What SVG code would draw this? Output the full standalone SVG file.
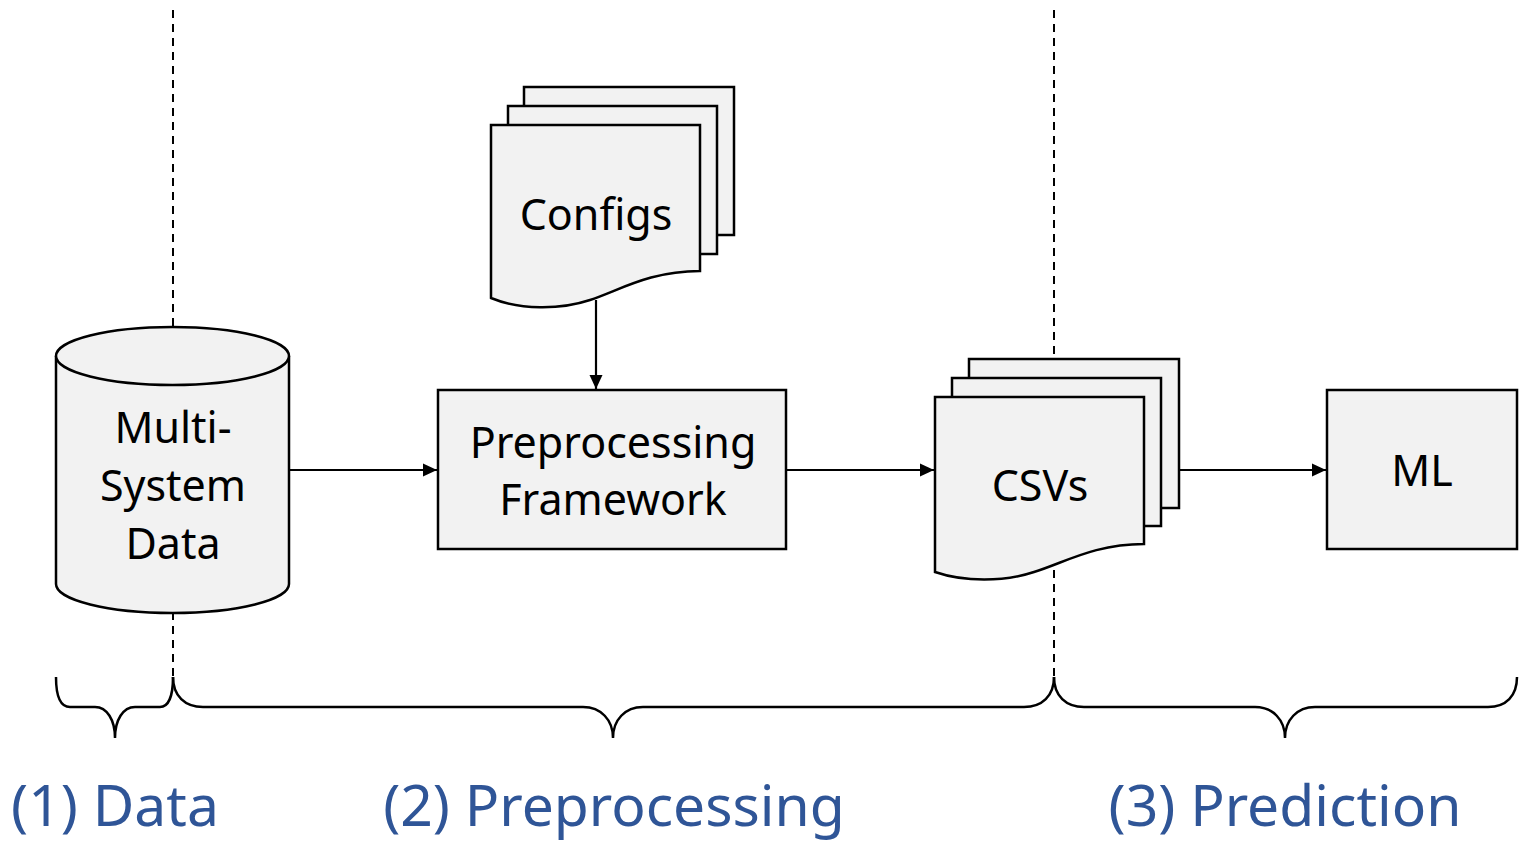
<svg xmlns="http://www.w3.org/2000/svg" width="1520" height="841" viewBox="0 0 1520 841">
<style>
.shape{fill:#F2F2F2;stroke:#000;stroke-width:2.5;stroke-linejoin:miter}
.t{font-family:"Noto Sans","Liberation Sans",sans-serif;font-size:43px;fill:#000;text-anchor:middle}
.lbl{font-family:"Noto Sans","Liberation Sans",sans-serif;font-size:57px;fill:#2F5597;text-anchor:middle}
.dash{stroke:#000;stroke-width:2;stroke-dasharray:8,6;fill:none}
.brace{stroke:#000;stroke-width:2.5;fill:none}
.conn{stroke:#000;stroke-width:2.2;fill:none;marker-end:url(#arr)}
</style>
<defs>
<marker id="arr" markerWidth="14" markerHeight="14" refX="14" refY="7" orient="auto" markerUnits="userSpaceOnUse">
<path d="M0,0.5 L14,7 L0,13.5 Z" fill="#000"/>
</marker>
</defs>
<rect width="1520" height="841" fill="#fff"/>
<g id="separators">
<line class="dash" x1="173" y1="10" x2="173" y2="677"/>
<line class="dash" x1="1054" y1="10" x2="1054" y2="677"/>
</g>
<g id="connectors">
<line class="conn" x1="596" y1="300" x2="596" y2="389"/>
<line class="conn" x1="290" y1="470" x2="437" y2="470"/>
<line class="conn" x1="787" y1="470" x2="934" y2="470"/>
<line class="conn" x1="1179" y1="470" x2="1326" y2="470"/>
</g>
<g id="multi-system-data">
<path class="shape" d="M56,356 V584 A116.5,29 0 0 0 289,584 V356"/>
<ellipse class="shape" cx="172.5" cy="356" rx="116.5" ry="29"/>
<text class="t" x="173" y="443">Multi-</text>
<text class="t" x="173" y="501">System</text>
<text class="t" x="173" y="559">Data</text>
</g>
<g id="configs">
<rect class="shape" x="524" y="87" width="210" height="148"/>
<rect class="shape" x="508" y="106" width="209" height="148"/>
<path class="shape" d="M491,125 H700 V271 C650,271 620,290 590,300 C560,310 520,310 491,298 Z"/>
<text class="t" x="596" y="230">Configs</text>
</g>
<g id="preprocessing-framework">
<rect class="shape" x="438" y="390" width="348" height="159"/>
<text class="t" x="613" y="458">Preprocessing</text>
<text class="t" x="613" y="515">Framework</text>
</g>
<g id="csvs">
<rect class="shape" x="969" y="359" width="210" height="149"/>
<rect class="shape" x="952" y="378" width="209" height="148"/>
<path class="shape" d="M935,397 H1144 V544 C1094,544 1064,563 1034,572 C1004,582 964,582 935,572 Z"/>
<text class="t" x="1040" y="501">CSVs</text>
</g>
<g id="ml">
<rect class="shape" x="1327" y="390" width="190" height="159"/>
<text class="t" x="1422" y="486">ML</text>
</g>
<g id="braces">
<path class="brace" d="M56,677 C56,697 61,707 70,707 L95,707 C107,707 115,720 115,738 C115,720 123,707 135,707 L160,707 C168,707 173,697 173,677"/>
<path class="brace" d="M173,677 C173,696 185,707 203,707 L583,707 C601,707 613,720 613,738 C613,720 625,707 643,707 L1024,707 C1042,707 1054,696 1054,677"/>
<path class="brace" d="M1054,677 C1054,696 1066,707 1084,707 L1255,707 C1273,707 1285,720 1285,738 C1285,720 1297,707 1315,707 L1488,707 C1506,707 1517,696 1517,677"/>
</g>
<g id="labels">
<text class="lbl" x="115" y="826">(1) Data</text>
<text class="lbl" x="614" y="826">(2) Preprocessing</text>
<text class="lbl" x="1285" y="826">(3) Prediction</text>
</g>
</svg>
